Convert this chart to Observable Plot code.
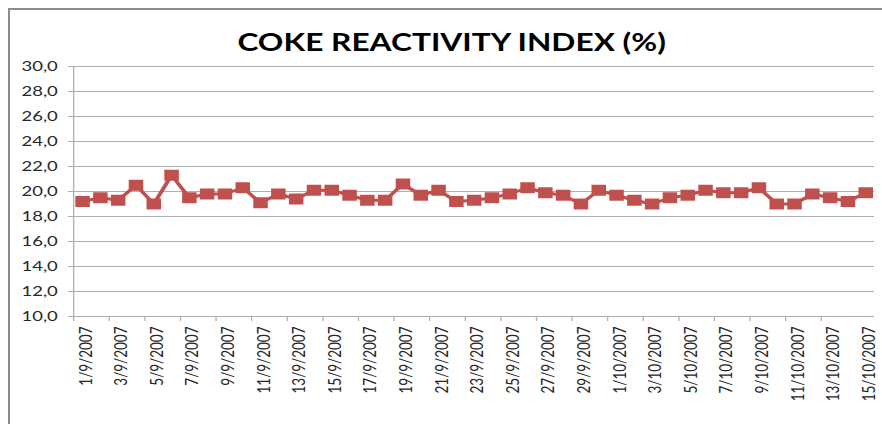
<!DOCTYPE html>
<html>
<head>
<meta charset="utf-8">
<script src="https://cdn.jsdelivr.net/npm/d3@7"></script>
<script src="https://cdn.jsdelivr.net/npm/@observablehq/plot@0.6"></script>
<style>
  body { margin: 0; background: #fff; }
  #wrap { position: relative; width: 882px; height: 424px; overflow: hidden; background: #fff; }
  #frame { position: absolute; left: 8px; top: 8px; width: 900px; height: 440px; border: 2px solid #8c8c8c; box-sizing: border-box; }
  #chart { position: absolute; left: 0; top: 0; transform-origin: 0 0; }
</style>
</head>
<body>
<div id="wrap">
  <div id="frame"></div>
  <div id="chart"></div>
</div>
<script>
// Daily coke reactivity index, 1 Sep – 15 Oct 2007
const dates = [
  "1/9/2007", "2/9/2007", "3/9/2007", "4/9/2007", "5/9/2007", "6/9/2007", "7/9/2007", "8/9/2007",
  "9/9/2007", "10/9/2007", "11/9/2007", "12/9/2007", "13/9/2007", "14/9/2007", "15/9/2007",
  "16/9/2007", "17/9/2007", "18/9/2007", "19/9/2007", "20/9/2007", "21/9/2007", "22/9/2007",
  "23/9/2007", "24/9/2007", "25/9/2007", "26/9/2007", "27/9/2007", "28/9/2007", "29/9/2007",
  "30/9/2007", "1/10/2007", "2/10/2007", "3/10/2007", "4/10/2007", "5/10/2007", "6/10/2007",
  "7/10/2007", "8/10/2007", "9/10/2007", "10/10/2007", "11/10/2007", "12/10/2007", "13/10/2007",
  "14/10/2007", "15/10/2007"
];
const cri = [
  19.2, 19.5, 19.3, 20.5, 19.0, 21.3, 19.5, 19.8,
  19.8, 20.3, 19.1, 19.8, 19.4, 20.1, 20.1,
  19.7, 19.3, 19.3, 20.6, 19.7, 20.1, 19.2,
  19.3, 19.5, 19.8, 20.3, 19.9, 19.7, 19.0,
  20.1, 19.7, 19.3, 19.0, 19.5, 19.7, 20.1,
  19.9, 19.9, 20.3, 19.0, 19.0, 19.8, 19.5,
  19.2, 19.9
];
const yTicks = [10, 12, 14, 16, 18, 20, 22, 24, 26, 28, 30];
const title = "COKE REACTIVITY INDEX (%)";

const data = dates.map((d, i) => ({i, date: d, value: cri[i]}));

// the chart is laid out narrow and widened horizontally
const stretch = 1.32;
const W = 882 / stretch;
const gray = "#b0b0b0";

// labels on every other day; tick marks sit on the category boundaries
const labelIdx = dates.map((d, i) => i).filter(i => i % 2 === 0);
const boundaries = labelIdx.filter(i => i + 1.5 < dates.length).map(i => i - 0.5);

const plot = Plot.plot({
  width: W,
  height: 424,
  marginLeft: 73 / stretch,
  marginRight: W - 874 / stretch,
  marginTop: 66,
  marginBottom: 108,
  style: {fontFamily: "Lato, sans-serif", background: "transparent", overflow: "visible"},
  x: {type: "linear", domain: [-0.5, dates.length - 0.5]},
  y: {domain: [10, 30]},
  marks: [
    Plot.gridY(yTicks, {stroke: gray, strokeOpacity: 1}),
    Plot.axisY(yTicks, {
      tickSize: 4, tickPadding: 8, stroke: gray, fill: "#262626", fontSize: 14,
      tickFormat: d => d.toFixed(1).replace(".", ","), label: null
    }),
    Plot.ruleX([-0.5], {stroke: gray}),
    Plot.ruleY([10], {stroke: gray}),
    Plot.axisX(boundaries, {tickSize: 5, stroke: gray, tickFormat: () => "", label: null}),
    Plot.axisX(labelIdx, {
      tickSize: 0, tickPadding: 10, tickRotate: -90, fill: "#262626", fontSize: 13.5,
      tickFormat: i => dates[i], label: null, dx: 2.5
    }),
    Plot.line(data, {x: "i", y: "value", stroke: "#C0504D", strokeWidth: 3}),
    Plot.dot(data, {x: "i", y: "value", symbol: "square", r: 6.2, fill: "#C0504D", stroke: "none"}),
    Plot.text([title], {
      text: d => d, frameAnchor: "top", dx: (451 - 473.5) / stretch, dy: -33,
      fontSize: 24, fontWeight: "bold", fill: "#000"
    })
  ]
});

const host = document.getElementById("chart");
host.style.transform = `scaleX(${stretch})`;
host.appendChild(plot);
</script>
</body>
</html>
